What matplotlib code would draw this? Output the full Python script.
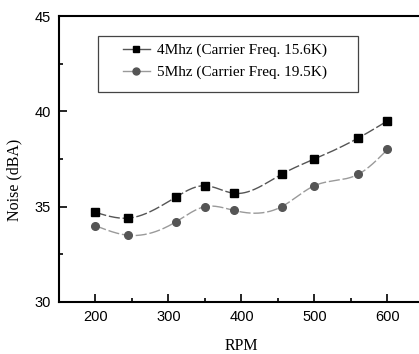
import numpy as np
import matplotlib
matplotlib.use("Agg")
import matplotlib.pyplot as plt
from matplotlib.ticker import MultipleLocator
from matplotlib.lines import Line2D
from matplotlib.patches import Rectangle

rpm = [200, 245, 310, 350, 390, 455, 500, 560, 600]
noise_4mhz = [34.7, 34.4, 35.5, 36.1, 35.7, 36.7, 37.5, 38.6, 39.5]
noise_5mhz = [34.0, 33.5, 34.2, 35.0, 34.8, 35.0, 36.1, 36.7, 38.0]
labels = ["4Mhz (Carrier Freq. 15.6K)", "5Mhz (Carrier Freq. 19.5K)"]


def spline(x, y, n=300):
    # natural cubic spline, only used to draw the smooth connecting curve
    x = np.asarray(x, float)
    y = np.asarray(y, float)
    k = len(x)
    h = np.diff(x)
    A = np.zeros((k, k))
    b = np.zeros(k)
    A[0, 0] = A[-1, -1] = 1
    for i in range(1, k - 1):
        A[i, i - 1] = h[i - 1]
        A[i, i] = 2 * (h[i - 1] + h[i])
        A[i, i + 1] = h[i]
        b[i] = 3 * ((y[i + 1] - y[i]) / h[i] - (y[i] - y[i - 1]) / h[i - 1])
    c = np.linalg.solve(A, b)
    xs = np.linspace(x[0], x[-1], n)
    idx = np.clip(np.searchsorted(x, xs) - 1, 0, k - 2)
    dx = xs - x[idx]
    bb = (y[idx + 1] - y[idx]) / h[idx] - h[idx] * (2 * c[idx] + c[idx + 1]) / 3
    dd = (c[idx + 1] - c[idx]) / (3 * h[idx])
    ys = y[idx] + bb * dx + c[idx] * dx ** 2 + dd * dx ** 3
    return xs, ys


serif = "Liberation Serif"
sans = ["Liberation Sans Narrow", "Liberation Sans", "DejaVu Sans"]

fig = plt.figure(figsize=(4.19, 3.54), dpi=100)
ax = fig.add_axes([0.1408, 0.1469, 0.8711, 0.8079])

styles = [
    dict(mk="s", mc="black", lc="#555555"),
    dict(mk="o", mc="#555555", lc="#9a9a9a"),
]
handles = []
for yv, st, lab in zip([noise_4mhz, noise_5mhz], styles, labels):
    xs, ys = spline(rpm, yv)
    ax.plot(xs, ys, color=st["lc"], lw=1.0, ls=(0, (8, 2)), zorder=2)
    ax.plot(rpm, yv, st["mk"], color=st["mc"], ms=5.5, zorder=3, ls="none")
    handles.append(Line2D([], [], color=st["lc"], lw=1.0, marker=st["mk"],
                          mfc=st["mc"], mec=st["mc"], ms=5))

ax.set_xlim(150, 650)
ax.set_ylim(30, 45)
ax.xaxis.set_major_locator(MultipleLocator(100))
ax.xaxis.set_minor_locator(MultipleLocator(50))
ax.yaxis.set_major_locator(MultipleLocator(5))
ax.yaxis.set_minor_locator(MultipleLocator(2.5))
ax.tick_params(which="both", direction="in", top=False, right=False, width=1.2)
ax.tick_params(which="major", length=6, labelsize=10.5, pad=6)
ax.tick_params(which="minor", length=3)
for t in ax.get_xticklabels() + ax.get_yticklabels():
    t.set_family(sans)
for s in ax.spines.values():
    s.set_linewidth(1.5)

ax.set_xlabel("RPM", family=serif, fontsize=11.5, labelpad=10)
ax.set_ylabel("Noise (dBA)", family=serif, fontsize=11.5, labelpad=4)
ax.yaxis.set_label_coords(-0.1, 0.427)

# legend box, drawn separately for its wide padding
ax.add_patch(Rectangle((0.106, 0.735), 0.714, 0.196, transform=ax.transAxes,
                       fill=False, edgecolor="#444444", lw=0.9, zorder=4))
ax.legend(handles, labels, loc="upper left", bbox_to_anchor=(0.1745, 0.905),
          prop=dict(family=serif, size=11), frameon=False,
          handlelength=1.8, handletextpad=0.45, borderpad=0, borderaxespad=0,
          labelspacing=0.55)

fig.savefig("out.png", dpi=100)
